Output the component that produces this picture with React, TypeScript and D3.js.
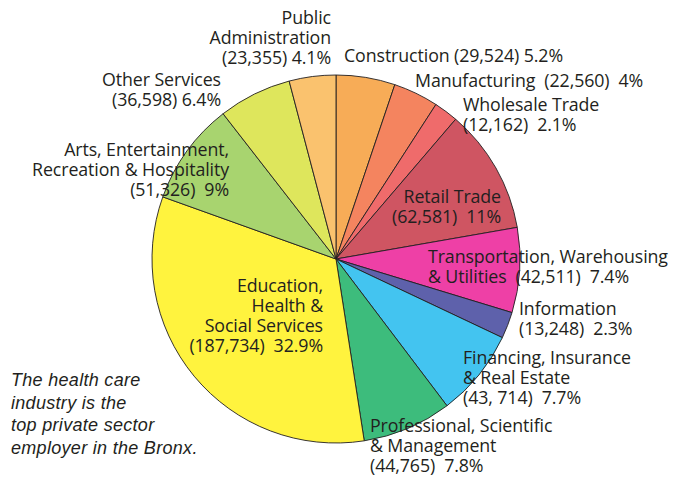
import React from "react";
import * as d3 from "d3";

const sectors = [
  "Construction", "Manufacturing", "Wholesale Trade", "Retail Trade",
  "Transportation, Warehousing & Utilities", "Information",
  "Financing, Insurance & Real Estate", "Professional, Scientific & Management",
  "Education, Health & Social Services", "Arts, Entertainment, Recreation & Hospitality",
  "Other Services", "Public Administration",
];
const jobs = [29524, 22560, 12162, 62581, 42511, 13248, 43714, 44765, 187734, 51326, 36598, 23355];
const colors = [
  "#F7AC57", "#F4845F", "#EF6B6B", "#CF5562", "#EE40A6", "#5E61AB",
  "#43C4F0", "#3DBC7C", "#FFF33E", "#A8D46F", "#DEE65C", "#FAC26E",
];
// label lines per sector
const labelLines: string[][] = [
  ["Construction (29,524) 5.2%"],
  ["Manufacturing  (22,560)  4%"],
  ["Wholesale Trade", "(12,162)  2.1%"],
  ["Retail Trade", "(62,581)  11%"],
  ["Transportation, Warehousing", "& Utilities  (42,511)  7.4%"],
  ["Information", "(13,248)  2.3%"],
  ["Financing, Insurance", "& Real Estate", "(43, 714)  7.7%"],
  ["Professional, Scientific", "& Management", "(44,765)  7.8%"],
  ["Education,", "Health &", "Social Services", "(187,734)  32.9%"],
  ["Arts, Entertainment,", "Recreation & Hospitality", "(51,326)  9%"],
  ["Other Services", "(36,598) 6.4%"],
  ["Public", "Administration", "(23,355) 4.1%"],
];
const noteLines = ["The health care", "industry is the", "top private sector", "employer in the Bronx."];

// label anchor layout: [x, first baseline y, anchor]
const labelPos: [number, number, "start" | "end"][] = [
  [344, 62, "start"],
  [415, 87, "start"],
  [463, 111, "start"],
  [501, 203, "end"],
  [428, 263, "start"],
  [519, 315, "start"],
  [463, 364, "start"],
  [370, 432, "start"],
  [323, 292, "end"],
  [229, 156, "end"],
  [221, 86, "end"],
  [331, 24, "end"],
];

export default function App() {
  const W = 684, H = 478;
  const cx = 336, cy = 259, r = 184;
  const pie = d3.pie<number>().sort(null).value((d) => d);
  const arcs = pie(jobs);
  const arc = d3.arc<d3.PieArcDatum<number>>().innerRadius(0).outerRadius(r);
  const font = "'Open Sans', 'Noto Sans', sans-serif";
  return (
    <svg width={W} height={H} style={{ position: "absolute", left: 0, top: 0, background: "#fff" }}>
      <g transform={`translate(${cx},${cy})`}>
        {arcs.map((a, i) => (
          <path key={sectors[i]} d={arc(a) || ""} fill={colors[i]} stroke="#231F20" strokeWidth={0.9} />
        ))}
      </g>
      {labelLines.map((lines, i) => (
        <text key={i} fontFamily={font} fontSize={17.8} fill="#231F20" textAnchor={labelPos[i][2]}
          letterSpacing={-0.1}>
          {lines.map((l, j) => (
            <tspan key={j} x={labelPos[i][0]} y={labelPos[i][1] + j * 20} xmlSpace="preserve">{l}</tspan>
          ))}
        </text>
      ))}
      <text fontFamily="'Liberation Sans', Arial, sans-serif" fontStyle="italic" fontSize={18} fill="#231F20"
        letterSpacing={0.3}>
        {noteLines.map((l, j) => (
          <tspan key={j} x={11} y={386 + j * 22.7}>{l}</tspan>
        ))}
      </text>
    </svg>
  );
}
